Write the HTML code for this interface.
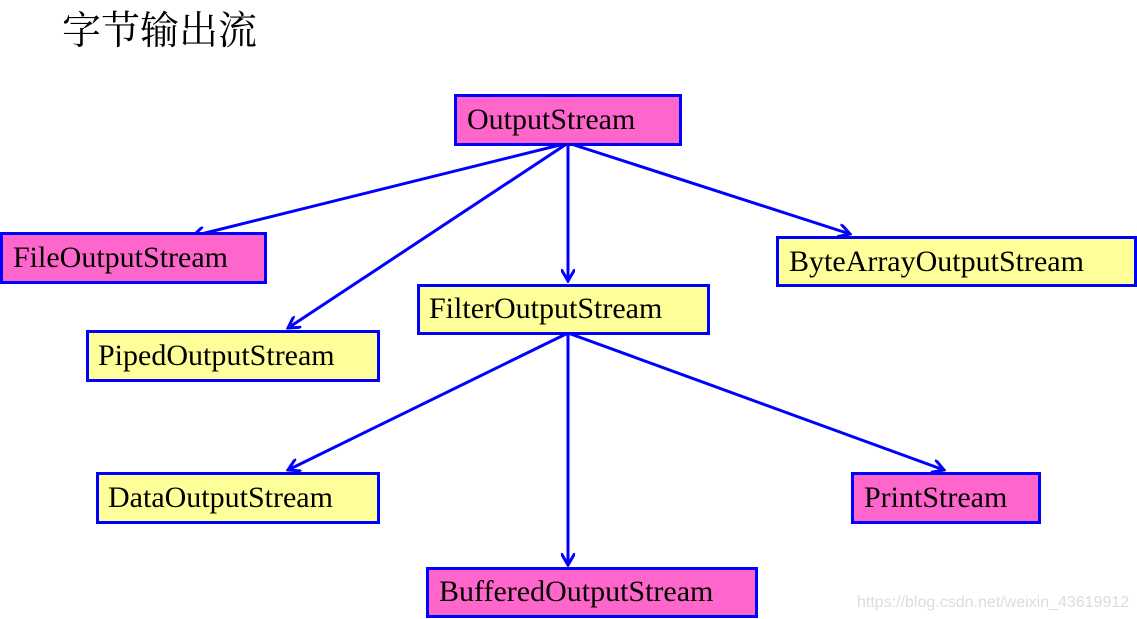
<!DOCTYPE html>
<html><head><meta charset="utf-8"><style>
html,body{margin:0;padding:0;background:#fff;}
svg{display:block;}
</style></head><body>
<svg width="1137" height="619" viewBox="0 0 1137 619" xmlns="http://www.w3.org/2000/svg">
<defs>
<marker id="a" markerWidth="14" markerHeight="14" refX="12" refY="7" orient="auto" markerUnits="userSpaceOnUse">
<path d="M0,0 L12,7 L0,14" fill="none" stroke="#0000ff" stroke-width="3"/>
</marker>
</defs>
<text x="62" y="44" font-family="'Liberation Serif','Noto Serif CJK SC','Noto Sans CJK SC',serif" font-size="39" fill="#000">字节输出流</text>
<g stroke="#0000ff" stroke-width="3" fill="none" marker-end="url(#a)">
<line x1="568" y1="143" x2="193" y2="236"/>
<line x1="568" y1="143" x2="288" y2="328"/>
<line x1="568" y1="143" x2="568" y2="281"/>
<line x1="568" y1="143" x2="850" y2="234"/>
<line x1="568" y1="333" x2="288" y2="470"/>
<line x1="568" y1="333" x2="568" y2="565"/>
<line x1="568" y1="333" x2="944" y2="470"/>
</g>
<g stroke="#0000ff" stroke-width="3">
<rect x="455.5" y="95.5" width="225" height="49" fill="#ff66cc"/>
<rect x="1.5" y="233.5" width="264" height="49" fill="#ff66cc"/>
<rect x="777.5" y="237.5" width="358" height="48" fill="#ffff99"/>
<rect x="418.5" y="285.5" width="290" height="48" fill="#ffff99"/>
<rect x="87.5" y="331.5" width="291" height="49" fill="#ffff99"/>
<rect x="97.5" y="473.5" width="281" height="49" fill="#ffff99"/>
<rect x="852.5" y="473.5" width="187" height="49" fill="#ff66cc"/>
<rect x="427.5" y="568.5" width="329" height="48" fill="#ff66cc"/>
</g>
<g font-family="'Liberation Serif',serif" font-size="30" fill="#000">
<text x="467" y="129">OutputStream</text>
<text x="13" y="267">FileOutputStream</text>
<text x="789" y="271">ByteArrayOutputStream</text>
<text x="429" y="318">FilterOutputStream</text>
<text x="98" y="365">PipedOutputStream</text>
<text x="108" y="507">DataOutputStream</text>
<text x="864" y="507">PrintStream</text>
<text x="439" y="601">BufferedOutputStream</text>
</g>
<text x="857" y="607" font-family="'Liberation Sans',sans-serif" font-size="16" fill="#dcdcdc">https://blog.csdn.net/weixin_43619912</text>
</svg>
</body></html>
